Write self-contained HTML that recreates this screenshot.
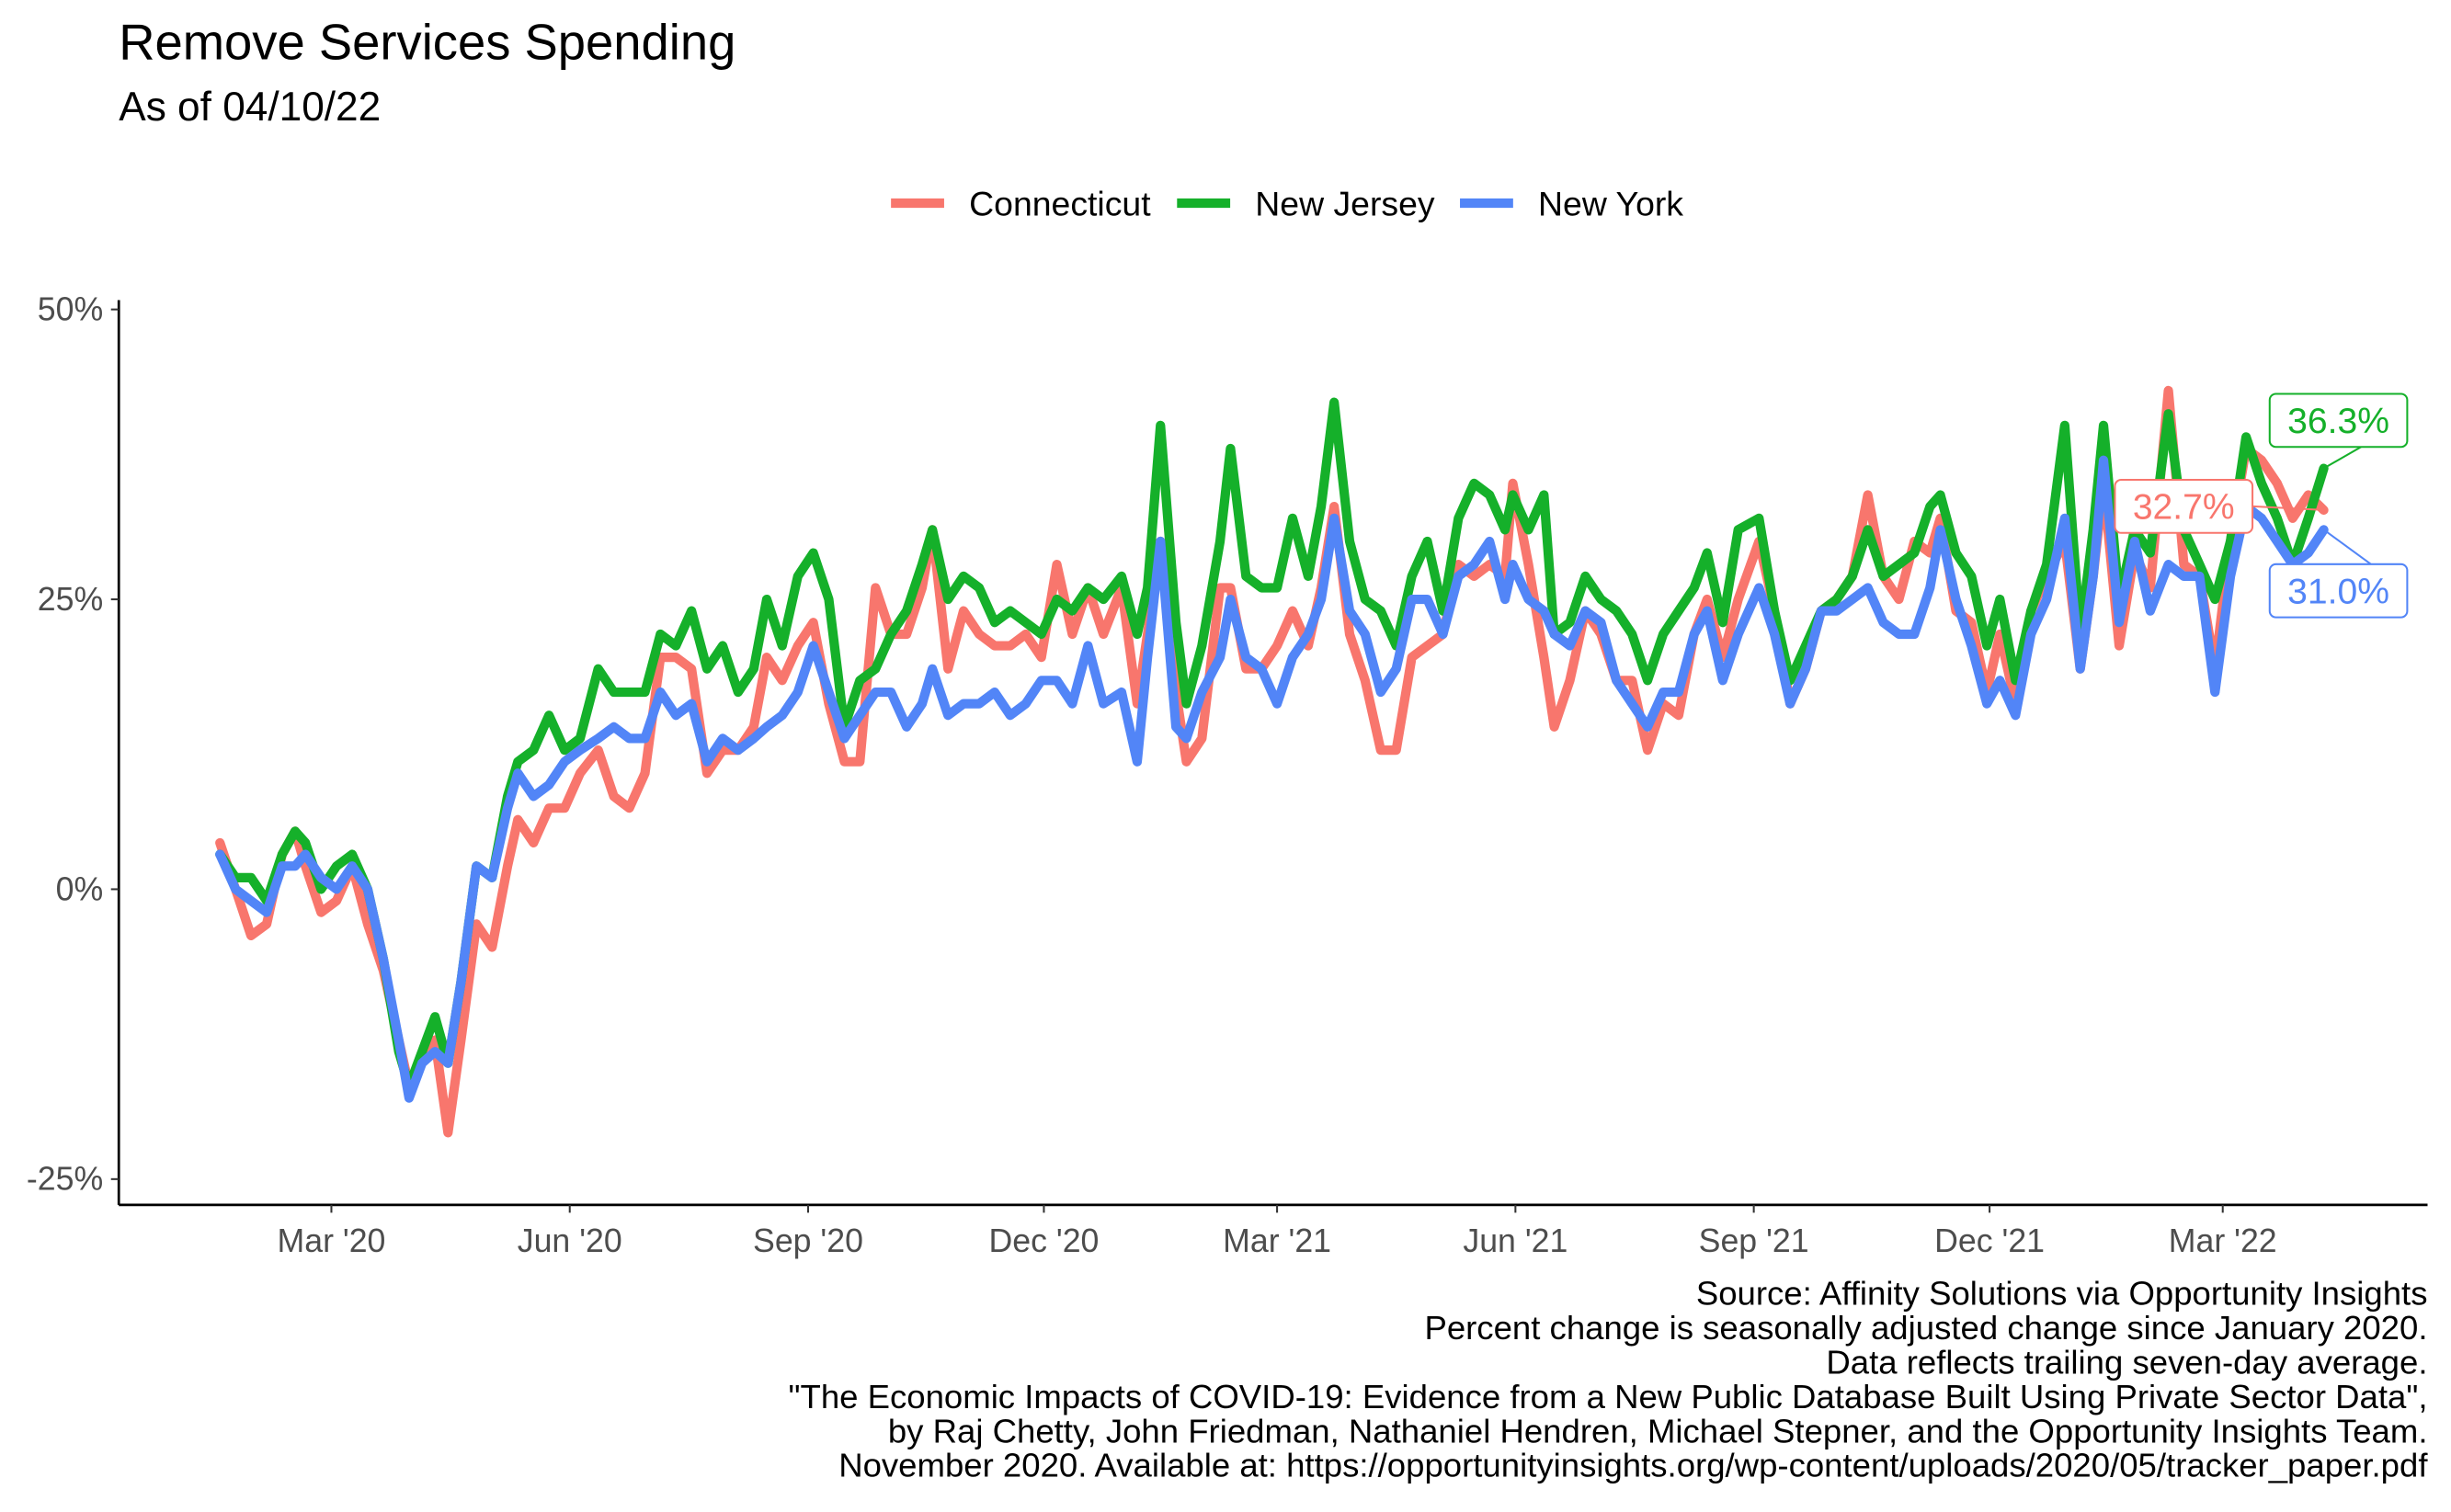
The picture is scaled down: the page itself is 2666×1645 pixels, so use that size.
<!DOCTYPE html>
<html><head><meta charset="utf-8"><style>html,body{margin:0;padding:0;background:#fff}svg{display:block}</style></head>
<body>
<svg id="chart" width="2666" height="1645" viewBox="0 0 1568 967.5" xmlns="http://www.w3.org/2000/svg" font-family="Liberation Sans, Arial, sans-serif">
<rect width="1568" height="967.5" fill="#fff"/>
<text x="76" y="38" font-size="32" fill="#000">Remove Services Spending</text>
<text x="76" y="77" font-size="26" fill="#000">As of 04/10/22</text>
<g>
<g><line x1="570" y1="130" x2="604" y2="130" stroke="#F8766D" stroke-width="6"/><text x="620" y="138" font-size="22">Connecticut</text></g>
<g><line x1="753" y1="130" x2="787" y2="130" stroke="#15B02A" stroke-width="6"/><text x="803" y="138" font-size="22">New Jersey</text></g>
<g><line x1="934" y1="130" x2="968" y2="130" stroke="#5285F7" stroke-width="6"/><text x="984" y="138" font-size="22">New York</text></g>
</g>
<g id="axes"></g>
<g id="series"></g>
<g id="labels"></g>
<g font-size="21.5" text-anchor="end" fill="#000">
<text x="1553" y="835">Source: Affinity Solutions via Opportunity Insights</text>
<text x="1553" y="857">Percent change is seasonally adjusted change since January 2020.</text>
<text x="1553" y="879">Data reflects trailing seven-day average.</text>
<text x="1553" y="901">"The Economic Impacts of COVID-19: Evidence from a New Public Database Built Using Private Sector Data",</text>
<text x="1553" y="923">by Raj Chetty, John Friedman, Nathaniel Hendren, Michael Stepner, and the Opportunity Insights Team.</text>
<text x="1553" y="945">November 2020. Available at: https://opportunityinsights.org/wp-content/uploads/2020/05/tracker_paper.pdf</text>
</g>
</svg>
<script>
const days=[17,23,29,35,41,46,50,56,62,68,74,80,86,90,95,100,105,110,116,122,128,132,138,144,150,156,163,169,175,181,187,193,199,205,211,217,223,228,234,240,246,252,258,264,270,276,282,288,292,298,304,310,316,322,328,334,340,346,352,358,365,371,375,380,386,390,396,403,407,413,419,425,431,437,442,447,453,459,465,471,477,483,489,495,501,507,513,516,522,528,532,538,544,550,556,562,568,574,580,586,591,597,603,611,617,623,629,635,641,647,653,659,665,671,677,681,687,693,699,704,710,716,722,729,735,740,744,750,756,762,769,775,781,787,793,799,805,811,817,823,829];
const ct=[4,0,-4,-3,3,5,2,-2,-1,2,-3,-7,-13,-17,-15,-13,-21,-13,-3,-5,2,6,4,7,7,10,12,8,7,10,20,20,19,10,12,12,14,20,18,21,23,16,11,11,26,22,22,26,31,19,24,22,21,21,22,20,28,22,26,22,26,16,22,30,17,11,13,26,26,19,19,21,24,21,26,33,22,18,12,12,20,21,22,28,27,28,27,35,28,20,14,18,24,22,18,18,12,16,15,22,25,20,25,30,24,16,19,24,25,27,34,27,25,30,29,32,24,23,17,22,16,24,27,30,19,27,35,21,29,26,43,28,27,19,30,38,37,35,32,34,32.7];
const nj=[3,1,1,-1,3,5,4,0,2,3,0,-6,-14,-17,-14,-11,-15,-8,2,1,8,11,12,15,12,13,19,17,17,17,22,21,24,19,21,17,19,25,21,27,29,25,14,18,19,22,24,28,31,25,27,26,23,24,23,22,25,24,26,25,27,22,26,40,23,16,21,30,38,27,26,26,32,27,33,42,30,25,24,21,27,30,24,32,35,34,31,34,31,34,22,23,27,25,24,22,18,22,24,26,29,23,31,32,24,18,21,24,25,27,31,27,28,29,33,34,29,27,21,25,18,24,28,40,22,31,40,25,31,29,41,31,28,25,30,39,35,32,28,32,36.3];
const ny=[3,0,-1,-2,2,2,3,1,0,2,0,-6,-13,-18,-15,-14,-15,-8,2,1,7,10,8,9,11,12,13,14,13,13,17,15,16,11,13,12,13,14,15,17,21,17,13,15,17,17,14,16,19,15,16,16,17,15,16,18,18,16,21,16,17,11,20,30,14,13,17,20,25,20,19,16,20,22,25,32,24,22,17,19,25,25,22,27,28,30,25,28,25,24,22,21,24,23,18,16,14,17,17,22,24,18,22,26,22,16,19,24,24,25,26,23,22,22,26,31,25,21,16,18,15,22,25,32,19,27,37,23,30,24,28,27,27,17,27,33,32,30,28,29,31.0];
const tickDays=[60,152,244,335,425,517,609,700,790];
const tickLabels=["Mar '20","Jun '20","Sep '20","Dec '20","Mar '21","Jun '21","Sep '21","Dec '21","Mar '22"];
const yTicks=[-25,0,25,50];
const NS="http://www.w3.org/2000/svg";
const xS=d=>212+(d-60)*1.6575;
const yS=v=>569-v*7.42;
function mk(t,a,p){const e=document.createElementNS(NS,t);for(const k in a)e.setAttribute(k,a[k]);p.appendChild(e);return e;}
const ax=document.getElementById('axes');
const yAxis=mk('line',{x1:76,y1:192,x2:76,y2:771,stroke:'#000','stroke-width':1.6},ax);


const xAxis=mk('line',{x1:76,y1:771,x2:1553,y2:771,stroke:'#000','stroke-width':1.6},ax);


yTicks.forEach(v=>{
  mk('line',{x1:71,x2:76,y1:yS(v),y2:yS(v),stroke:'#333','stroke-width':1.2},ax);
  const t=mk('text',{x:66,y:yS(v)+7,'font-size':21,'text-anchor':'end',fill:'#4d4d4d'},ax);
  t.textContent=v+'%';
  
  
});
tickDays.forEach((d,i)=>{
  mk('line',{x1:xS(d),x2:xS(d),y1:771,y2:776,stroke:'#333','stroke-width':1.2},ax);
  const t=mk('text',{x:xS(d),y:801,'font-size':21,'text-anchor':'middle',fill:'#4d4d4d'},ax);
  t.textContent=tickLabels[i];
  
  
});
const sg=document.getElementById('series');
[[ct,'#F8766D','connecticut'],[nj,'#15B02A','new-jersey'],[ny,'#5285F7','new-york']].forEach(([vals,c,n])=>{
  const p=mk('path',{d:vals.map((v,i)=>(i?'L':'M')+xS(days[i]).toFixed(1)+','+yS(v).toFixed(1)).join(''),fill:'none',stroke:c,'stroke-width':6,'stroke-linejoin':'round','stroke-linecap':'round'},sg);
  
  
});
const lg=document.getElementById('labels');
const last=days.length-1;
[[nj,'#15B02A','new-jersey',1452,269],[ct,'#F8766D','connecticut',1353,324],[ny,'#5285F7','new-york',1452,378]].forEach(([vals,c,n,bx,by])=>{
  const v=vals[last];
  const ex=xS(days[last]),ey=yS(v);
  const w=bx<ex?88:64;
  mk('line',{x1:ex,y1:ey,x2:bx<ex?bx+w:bx,y2:by,stroke:c,'stroke-width':1.2},lg);
  const r=mk('rect',{x:bx,y:by-17,width:w,height:34,rx:4,fill:'#fff',stroke:c,'stroke-width':1.2},lg);
  
  
  const t=mk('text',{x:bx+w/2,y:by+8,'font-size':23,'text-anchor':'middle',fill:c},lg);
  t.textContent=v.toFixed(1)+'%';
  
  
});
</script>
</body></html>
